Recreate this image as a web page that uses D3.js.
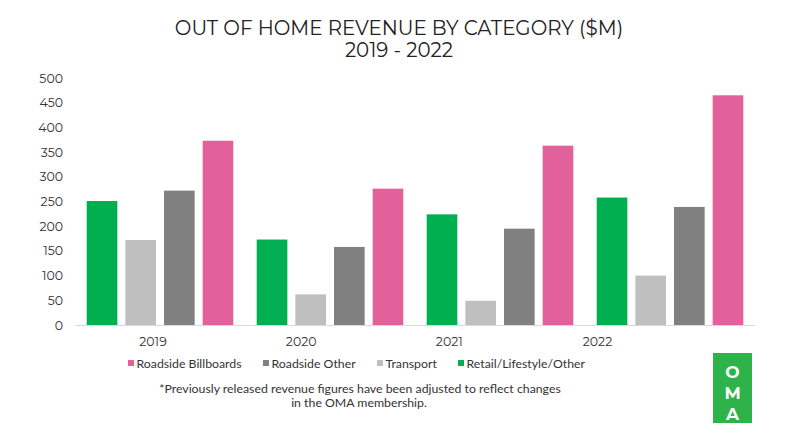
<!DOCTYPE html>
<html><head><meta charset="utf-8">
<script src="https://cdn.jsdelivr.net/npm/d3@7"></script>
<style>body{margin:0;background:#fff}svg{display:block}</style>
</head><body><svg id="c" width="800" height="434"></svg>
<script>
const years = ["2019","2020","2021","2022"];
const series = ["Retail/Lifestyle/Other","Transport","Roadside Other","Roadside Billboards"];
const retail = [251, 173, 224, 258];
const transport = [172, 62, 49, 100];
const roadsideOther = [272, 158, 195, 239];
const billboards = [373, 276, 363, 465];
const yTicks = [0,50,100,150,200,250,300,350,400,450,500];
const legendOrder = ["Roadside Billboards","Roadside Other","Transport","Retail/Lifestyle/Other"];
const colors = {"Retail/Lifestyle/Other":"#00b050","Transport":"#bfbfbf","Roadside Other":"#808080","Roadside Billboards":"#e3619a"};
const values = {"Retail/Lifestyle/Other":retail,"Transport":transport,"Roadside Other":roadsideOther,"Roadside Billboards":billboards};

const GEO = '"Montserrat","Lato",sans-serif';
const SMALL = '"Lato","Open Sans",sans-serif';
const svg = d3.select("#c");
const x0 = d3.scaleBand().domain(years).range([75,755]).padding(0);
const x1 = d3.scaleBand().domain(series).range([11.7, 158.3]).paddingInner(0.207).paddingOuter(0);
const y = d3.scaleLinear().domain([0,500]).range([325,78]);
const xLab = d3.scalePoint().domain(years).range([152.5,597]);

// title
svg.append("text").attr("x",399).attr("y",35).attr("text-anchor","middle").style("font-family",GEO)
  .attr("font-size",19.8).attr("fill","#222").text("OUT OF HOME REVENUE BY CATEGORY ($M)");
svg.append("text").attr("x",399).attr("y",57).attr("text-anchor","middle").style("font-family",GEO)
  .attr("font-size",19.8).attr("fill","#222").text("2019 - 2022");

// y axis
const yAxis = d3.axisLeft(y).tickValues(yTicks).tickSize(0).tickPadding(0);
const ga = svg.append("g").attr("transform","translate(63,0)").call(yAxis);
ga.select(".domain").remove();
ga.selectAll("text").style("font-size","12.5px").attr("fill","#333").style("font-family",GEO);

// bars
series.forEach(s=>{
  svg.append("g").selectAll("rect").data(years).join("rect")
    .attr("x",(d)=>x0(d)+x1(s)).attr("width",x1.bandwidth())
    .attr("y",(d,i)=>y(values[s][i])).attr("height",(d,i)=>y(0)-y(values[s][i]))
    .attr("fill",colors[s]);
});

// baseline
svg.append("line").attr("x1",x0.range()[0]).attr("x2",x0.range()[1]).attr("y1",y(0)+0.5).attr("y2",y(0)+0.5)
  .attr("stroke","#d9d9d9").attr("stroke-width",1);

// x labels
const xa = d3.axisBottom(xLab).tickSize(0).tickPadding(0);
const gx = svg.append("g").attr("transform","translate(0,337)").call(xa);
gx.select(".domain").remove();
gx.selectAll("text").style("font-size","12.5px").attr("fill","#333").style("font-family",GEO);

// legend
const legX = [128, 263, 377, 458];
legendOrder.forEach((s,i)=>{
  const g = svg.append("g").attr("transform",`translate(${legX[i]},363)`);
  g.append("rect").attr("x",0).attr("y",-3).attr("width",6).attr("height",6).attr("fill",colors[s]);
  g.append("text").attr("x",8.5).attr("y",4.5).style("font-size","12.3px").style("font-family",SMALL).attr("fill","#333").text(s);
});

// footnote
svg.append("text").attr("x",360).attr("y",393).attr("text-anchor","middle").style("font-size","12.3px").style("font-family",SMALL).attr("fill","#333")
  .text("*Previously released revenue figures have been adjusted to reflect changes");
svg.append("text").attr("x",359).attr("y",407).attr("text-anchor","middle").style("font-size","12.3px").style("font-family",SMALL).attr("fill","#333")
  .text("in the OMA membership.");

// logo
svg.append("rect").attr("x",713).attr("y",353).attr("width",39).attr("height",70).attr("fill","#2db34a");
["O","M","A"].forEach((l,i)=>{
  svg.append("text").attr("x",732.5).attr("y",377.5+i*21).attr("text-anchor","middle").style("font-family",GEO)
    .attr("font-size",17).attr("font-weight","bold").attr("fill","#fff").text(l);
});
</script></body></html>
